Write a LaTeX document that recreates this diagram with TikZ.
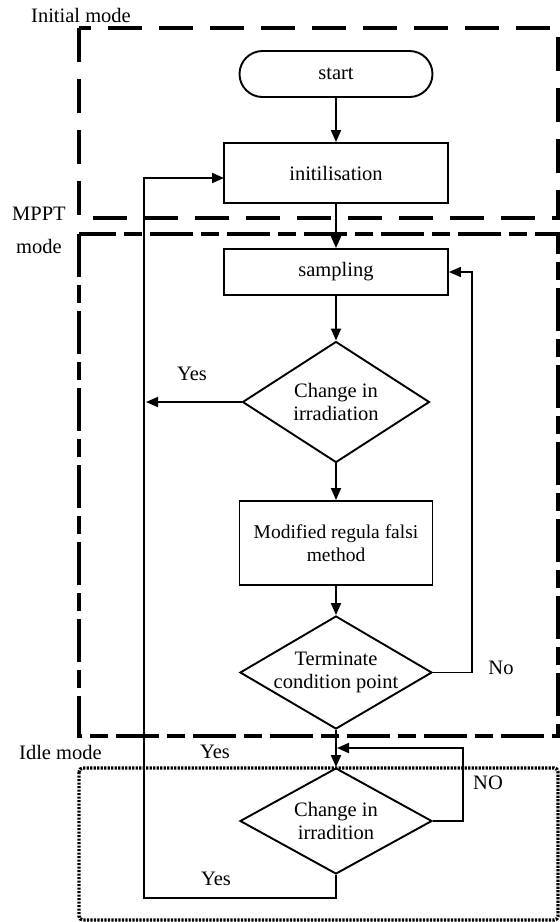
\documentclass[tikz,border=0pt]{standalone}
\usepackage{fontspec}
\setmainfont{Liberation Serif}
\usetikzlibrary{shapes.geometric,arrows.meta}
\begin{document}
\begin{tikzpicture}[x=1pt,y=-1pt,
  txt/.style={font=\fontsize{20.5}{23}\selectfont, inner sep=0pt},
  proc/.style={draw, line width=1.9pt, rectangle, inner sep=0pt, font=\fontsize{20.5}{23}\selectfont, align=center},
  term/.style={proc, rounded corners=23pt},
  dec/.style={draw, line width=1.9pt, diamond, inner sep=0pt, aspect=1.6},
  conn/.style={line width=1.9pt, -{Triangle[length=12pt,width=10pt]}},
  initbox/.style={line width=3.3pt, dash pattern=on 34pt off 17pt},
  mpptbox/.style={line width=3.3pt, dash pattern=on 43pt off 8pt on 18pt off 8pt},
  idlebox/.style={line width=3.4pt, dash pattern=on 2.2pt off 1.3pt, rounded corners=4pt}
]
\useasboundingbox (0,0) rectangle (560,922);

% mode boxes
\draw[initbox] (79,28) rectangle (558,218);
\draw[mpptbox] (79,234) rectangle (558,736);
\draw[idlebox] (79,768) rectangle (558,920);

\node[txt, anchor=west] (linit) at (31,15) {Initial mode};
\node[txt] (lmppt) at (39,214) {MPPT};
\node[txt] (lmode) at (39,246) {mode};
\node[txt, anchor=west] (lidle) at (19,752) {Idle mode};

% flow nodes
\node[term, minimum width=193pt, minimum height=46pt] (start) at (336,74) {start};
\node[proc, minimum width=224pt, minimum height=60pt] (init) at (336,173) {initilisation};
\node[proc, minimum width=224pt, minimum height=46pt] (samp) at (336,272) {sampling};
\node[dec, minimum width=187pt, minimum height=121pt,
  label={[txt, align=center]center:Change in\\irradiation}] (d1) at (336,402) {};
\node[proc, minimum width=193pt, minimum height=84pt, font=\fontsize{19.5}{23}\selectfont] (mod) at (336,543) {Modified regula falsi\\method};
\node[dec, minimum width=192pt, minimum height=113pt,
  label={[txt, align=center]center:Terminate\\condition point}] (d2) at (336,672.5) {};
\node[dec, minimum width=192pt, minimum height=106pt,
  label={[txt, align=center]center:Change in\\irradition}] (d3) at (336,821) {};

% helper coordinates
\coordinate (yesend) at (146,402);
\coordinate (nor) at (472,672.5);
\coordinate (nort) at (472,272);
\coordinate (idr) at (463,821);
\coordinate (idrt) at (463,748);
\coordinate (idin) at (337,748);
\coordinate (bot) at (336,898);
\coordinate (botl) at (144,898);
\coordinate (topl) at (144,178);
\coordinate (initin) at (224,178);

% connectors
\draw[conn] (start) -- (init);
\draw[conn] (init) -- (samp);
\draw[conn] (samp) -- (d1);
\draw[conn] (d1) -- (mod);
\draw[conn] (mod) -- (d2);
\draw[conn] (d2) -- (d3);
\draw[conn] (d1.west) -- (yesend);
\draw[conn] (d2.east) -- (nor) -- (nort) -- (samp.east);
\draw[conn] (d3.east) -- (idr) -- (idrt) -- (idin);
\draw[conn] (d3.south) -- (bot) -- (botl) -- (topl) -- (initin);

% edge labels
\node[txt] (yes1) at (192,374) {Yes};
\node[txt] (no1) at (501,668) {No};
\node[txt] (yes2) at (215,752) {Yes};
\node[txt] (no2) at (488,783) {NO};
\node[txt] (yes3) at (216,879) {Yes};
\end{tikzpicture}
\end{document}
